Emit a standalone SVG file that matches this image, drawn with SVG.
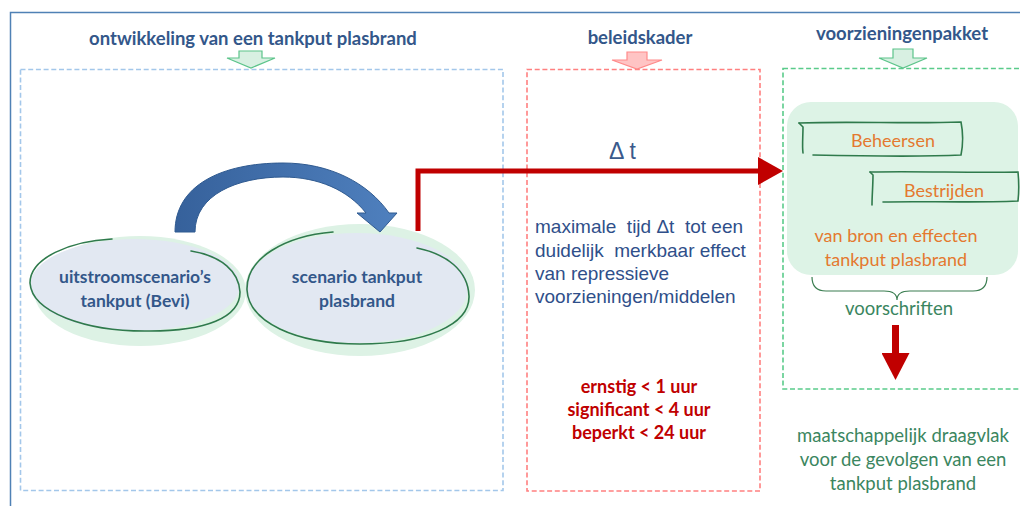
<svg xmlns="http://www.w3.org/2000/svg" width="1020" height="506" viewBox="0 0 1020 506">
  <style>
    .title { font-family: Lato, "Liberation Sans", sans-serif; font-weight: bold; font-size: 18.5px; fill: #33578a; text-anchor: middle; }
    .node-text { font-family: Lato, "Liberation Sans", sans-serif; font-weight: bold; font-size: 17.5px; fill: #33578a; text-anchor: middle; }
    .body { font-family: "Liberation Sans", Arial, sans-serif; font-size: 19px; fill: #2f4f8a; white-space: pre; }
    .delta { font-family: "Liberation Sans", Arial, sans-serif; font-size: 23px; fill: #3a5a8c; white-space: pre; }
    .crit { font-family: Lato, "Liberation Sans", sans-serif; font-weight: bold; font-size: 18px; fill: #c00000; text-anchor: middle; }
    .orange { font-family: Lato, "Liberation Sans", sans-serif; font-size: 18px; fill: #e4792f; text-anchor: middle; }
    .green-text { font-family: Lato, "Liberation Sans", sans-serif; font-size: 18.5px; fill: #3b8660; text-anchor: middle; }
    .dash { fill: none; stroke-width: 1.6; stroke-dasharray: 5 2.7; }
    .sketch { fill: none; stroke: #2f7a4c; stroke-width: 1.6; stroke-linecap: round; }
    .halo { fill: #ddf2e5; }
    .bubble { fill: #e2e8f2; }
    .red-line { fill: none; stroke: #c00000; stroke-width: 5; }
  </style>
  <defs>
    <marker id="redHead" markerUnits="userSpaceOnUse" markerWidth="26" markerHeight="30" refX="2" refY="15" orient="auto">
      <path d="M0,1 L25,15 L0,29 Z" fill="#c00000"/>
    </marker>
    <marker id="redHeadDown" markerUnits="userSpaceOnUse" markerWidth="30" markerHeight="28" refX="2" refY="14" orient="auto">
      <path d="M0,0 L27,14 L0,28 Z" fill="#c00000"/>
    </marker>
    <linearGradient id="blueArc" x1="0" y1="0" x2="1" y2="0">
      <stop offset="0" stop-color="#36619b"/>
      <stop offset="1" stop-color="#4f80be"/>
    </linearGradient>
  </defs>

  <!-- page frame -->
  <path d="M10.5,506 L10.5,12.5 L1020,12.5" fill="none" stroke="#4f81b5" stroke-width="1.5"/>

  <!-- column frames -->
  <rect x="20.5" y="69.5" width="482.5" height="421" class="dash" stroke="#a3c7ea"/>
  <rect x="527" y="69.5" width="233" height="421.5" class="dash" stroke="#ff8080"/>
  <rect x="783" y="68.5" width="250" height="320.5" class="dash" stroke="#5acb8a"/>

  <!-- column headings -->
  <g id="heading-ontwikkeling">
    <text class="title" x="253" y="45">ontwikkeling van een tankput plasbrand</text>
    <path d="M239,51 L262,51 L262,58 L275,58 L251,68 L227,58 L239,58 Z" fill="#d8f0e2" stroke="#5cc48a" stroke-width="1.2"/>
  </g>
  <g id="heading-beleidskader">
    <text class="title" x="640" y="44">beleidskader</text>
    <path d="M627,52 L647,52 L647,60 L662,60 L637,69 L612,60 L627,60 Z" fill="#ffc4c4" stroke="#ff8a8a" stroke-width="1.2"/>
  </g>
  <g id="heading-voorzieningenpakket">
    <text class="title" x="902" y="40">voorzieningenpakket</text>
    <path d="M893,49 L913,49 L913,58 L927,58 L903,68 L879,58 L893,58 Z" fill="#d8f0e2" stroke="#5cc48a" stroke-width="1.2"/>
  </g>

  <!-- scenario bubbles -->
  <g id="node-uitstroom">
    <ellipse class="halo" cx="140" cy="291" rx="106" ry="55"/>
    <ellipse class="bubble" cx="135" cy="285" rx="105" ry="46"/>
    <path class="sketch" d="M112,239 C70,241 30,258 30,283 C32,312 85,332 150,331 C205,331 240,318 240,292 C239,272 222,256 191,251"/>
    <text class="node-text" x="135" y="283">uitstroomscenario’s</text>
    <text class="node-text" x="135" y="307">tankput (Bevi)</text>
  </g>
  <g id="node-plasbrand">
    <ellipse class="halo" cx="360" cy="290" rx="115" ry="66"/>
    <ellipse class="bubble" cx="357" cy="288" rx="111" ry="55"/>
    <path class="sketch" d="M333,232 C285,236 246,258 247,290 C249,322 295,344 360,344 C425,344 470,325 469,296 C468,270 446,254 417,248"/>
    <text class="node-text" x="357" y="283">scenario tankput</text>
    <text class="node-text" x="357" y="307">plasbrand</text>
  </g>

  <!-- Beleidskader texts -->
  <g id="node-beleid">
    <text class="delta" x="609" y="159">Δ t</text>
    <text class="body" x="535" y="233">maximale  tijd Δt  tot een</text>
    <text class="body" x="535" y="257">duidelijk  merkbaar effect</text>
    <text class="body" x="535" y="280">van repressieve</text>
    <text class="body" x="535" y="303">voorzieningen/middelen</text>
    <text class="crit" x="639" y="393">ernstig &lt; 1 uur</text>
    <text class="crit" x="639" y="416">significant &lt; 4 uur</text>
    <text class="crit" x="639" y="439">beperkt &lt; 24 uur</text>
  </g>

  <!-- voorzieningenpakket -->
  <g id="node-voorzieningen">
    <rect x="787" y="102" width="231" height="173" rx="24" fill="#ddf3e6"/>
    <path class="sketch" d="M799,123 C850,121 910,124 961,122 C963,132 963,145 961,155 C920,157 860,156 813,155"/>
    <path class="sketch" d="M799,123 L803,127 C803,137 802,146 803,153"/>
    <text class="orange" x="893" y="147">Beheersen</text>
    <path class="sketch" d="M870,172 C920,171 970,173 1018,172 C1019,182 1019,192 1018,201 C970,203 920,201 883,202"/>
    <path class="sketch" d="M870,172 L873,175 C873,185 872,196 872,205"/>
    <text class="orange" x="944" y="197">Bestrijden</text>
    <text class="orange" x="896" y="242">van bron en effecten</text>
    <text class="orange" x="896" y="266">tankput plasbrand</text>
    <path d="M812,277 Q812,291 826,291 L884,291 Q897,291 897,300 Q897,291 910,291 L973,291 Q987,291 987,277" fill="none" stroke="#3a7d50" stroke-width="1.2"/>
    <text class="green-text" x="899" y="315">voorschriften</text>
  </g>

  <g id="node-draagvlak">
    <text class="green-text" x="903" y="442">maatschappelijk draagvlak</text>
    <text class="green-text" x="903" y="466">voor de gevolgen van een</text>
    <text class="green-text" x="903" y="490">tankput plasbrand</text>
  </g>

  <!-- connectors -->
  <g id="connectors">
    <path d="M175,232 C175,185 222,163 283,163 C330,163 368,183 389,213 L397,213 L380,232 L357,213 L366,213 C348,190 318,177 283,177 C237,177 195,195 195,232 Z" fill="url(#blueArc)" stroke="#2f5a90" stroke-width="1"/>
    <path class="red-line" d="M418,231 L418,171 L760,171" marker-end="url(#redHead)"/>
    <path d="M895.5,325 L895.5,355" fill="none" stroke="#c00000" stroke-width="7" marker-end="url(#redHeadDown)"/>
  </g>
</svg>
